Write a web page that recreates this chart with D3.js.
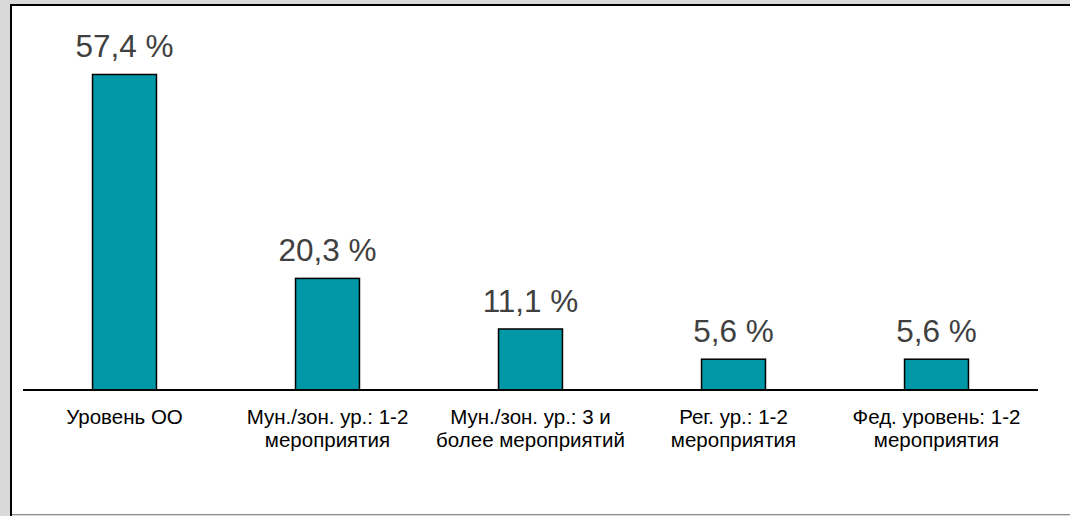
<!DOCTYPE html>
<html>
<head>
<meta charset="utf-8">
<script src="https://cdn.jsdelivr.net/npm/d3@7"></script>
<style>
  body { margin: 0; background: #d9d9d9; }
  svg { display: block; font-family: Arial, "Liberation Sans", sans-serif; }
</style>
</head>
<body>
<svg id="chart" width="1070" height="516"></svg>
<script>
// categories, each one as lines of text
let categories = [
    ["Уровень ОО"],
    ["Мун./зон. ур.: 1-2", "мероприятия"],
    ["Мун./зон. ур.: 3 и", "более мероприятий"],
    ["Рег. ур.: 1-2", "мероприятия"],
    ["Фед. уровень: 1-2", "мероприятия"]
];
let values = [57.4, 20.3, 11.1, 5.6, 5.6];
let valueLabels = ["57,4 %", "20,3 %", "11,1 %", "5,6 %", "5,6 %"];

let svg = d3.select("#chart");

// panel
svg.append("rect")
    .attr("x", 0).attr("y", 0)
    .attr("width", 1070).attr("height", 516)
    .attr("fill", "#d9d9d9");
svg.append("rect")
    .attr("x", 11).attr("y", 5)
    .attr("width", 1070).attr("height", 509)
    .attr("fill", "#ffffff");
svg.append("line")
    .attr("x1", 12).attr("x2", 1070).attr("y1", 514.5).attr("y2", 514.5)
    .attr("stroke", "#8c8c8c").attr("stroke-width", 1);
svg.append("line")
    .attr("x1", 11).attr("x2", 11).attr("y1", 4).attr("y2", 516)
    .attr("stroke", "#000").attr("stroke-width", 2);
svg.append("line")
    .attr("x1", 10).attr("x2", 1070).attr("y1", 5).attr("y2", 5)
    .attr("stroke", "#000").attr("stroke-width", 2);

let left = 23, right = 1038, baseY = 390;

let xScale = d3.scaleBand()
    .domain(d3.range(values.length))
    .range([left, right])
    .paddingInner(0.685)
    .paddingOuter(0.3425);

let yScale = d3.scaleLinear()
    .domain([0, 60])
    .range([baseY, baseY - 329.8]);

// bars
svg.selectAll("rect.bar")
    .data(values)
    .enter()
    .append("rect")
    .attr("class", "bar")
    .attr("x", (d, i) => xScale(i))
    .attr("y", d => yScale(d))
    .attr("width", xScale.bandwidth())
    .attr("height", d => yScale(0) - yScale(d))
    .attr("fill", "#0097a7")
    .attr("stroke", "#000")
    .attr("stroke-width", 1.5);

// axis line
svg.append("line")
    .attr("x1", left).attr("x2", right)
    .attr("y1", baseY).attr("y2", baseY)
    .attr("stroke", "#000").attr("stroke-width", 2);

// value labels
svg.selectAll("text.val")
    .data(values)
    .enter()
    .append("text")
    .attr("class", "val")
    .attr("x", (d, i) => xScale(i) + xScale.bandwidth() / 2)
    .attr("y", d => yScale(d) - 17)
    .attr("text-anchor", "middle")
    .attr("font-size", 31.5)
    .attr("fill", "#404040")
    .text((d, i) => valueLabels[i]);

// category labels
let cat = svg.selectAll("text.cat")
    .data(categories)
    .enter()
    .append("text")
    .attr("class", "cat")
    .attr("text-anchor", "middle")
    .attr("font-size", 20.5)
    .attr("fill", "#000");

cat.selectAll("tspan")
    .data((d, i) => d.map(t => ({ t: t, i: i })))
    .enter()
    .append("tspan")
    .attr("x", d => xScale(d.i) + xScale.bandwidth() / 2)
    .attr("y", (d, j) => 424 + j * 23)
    .text(d => d.t);
</script>
</body>
</html>
